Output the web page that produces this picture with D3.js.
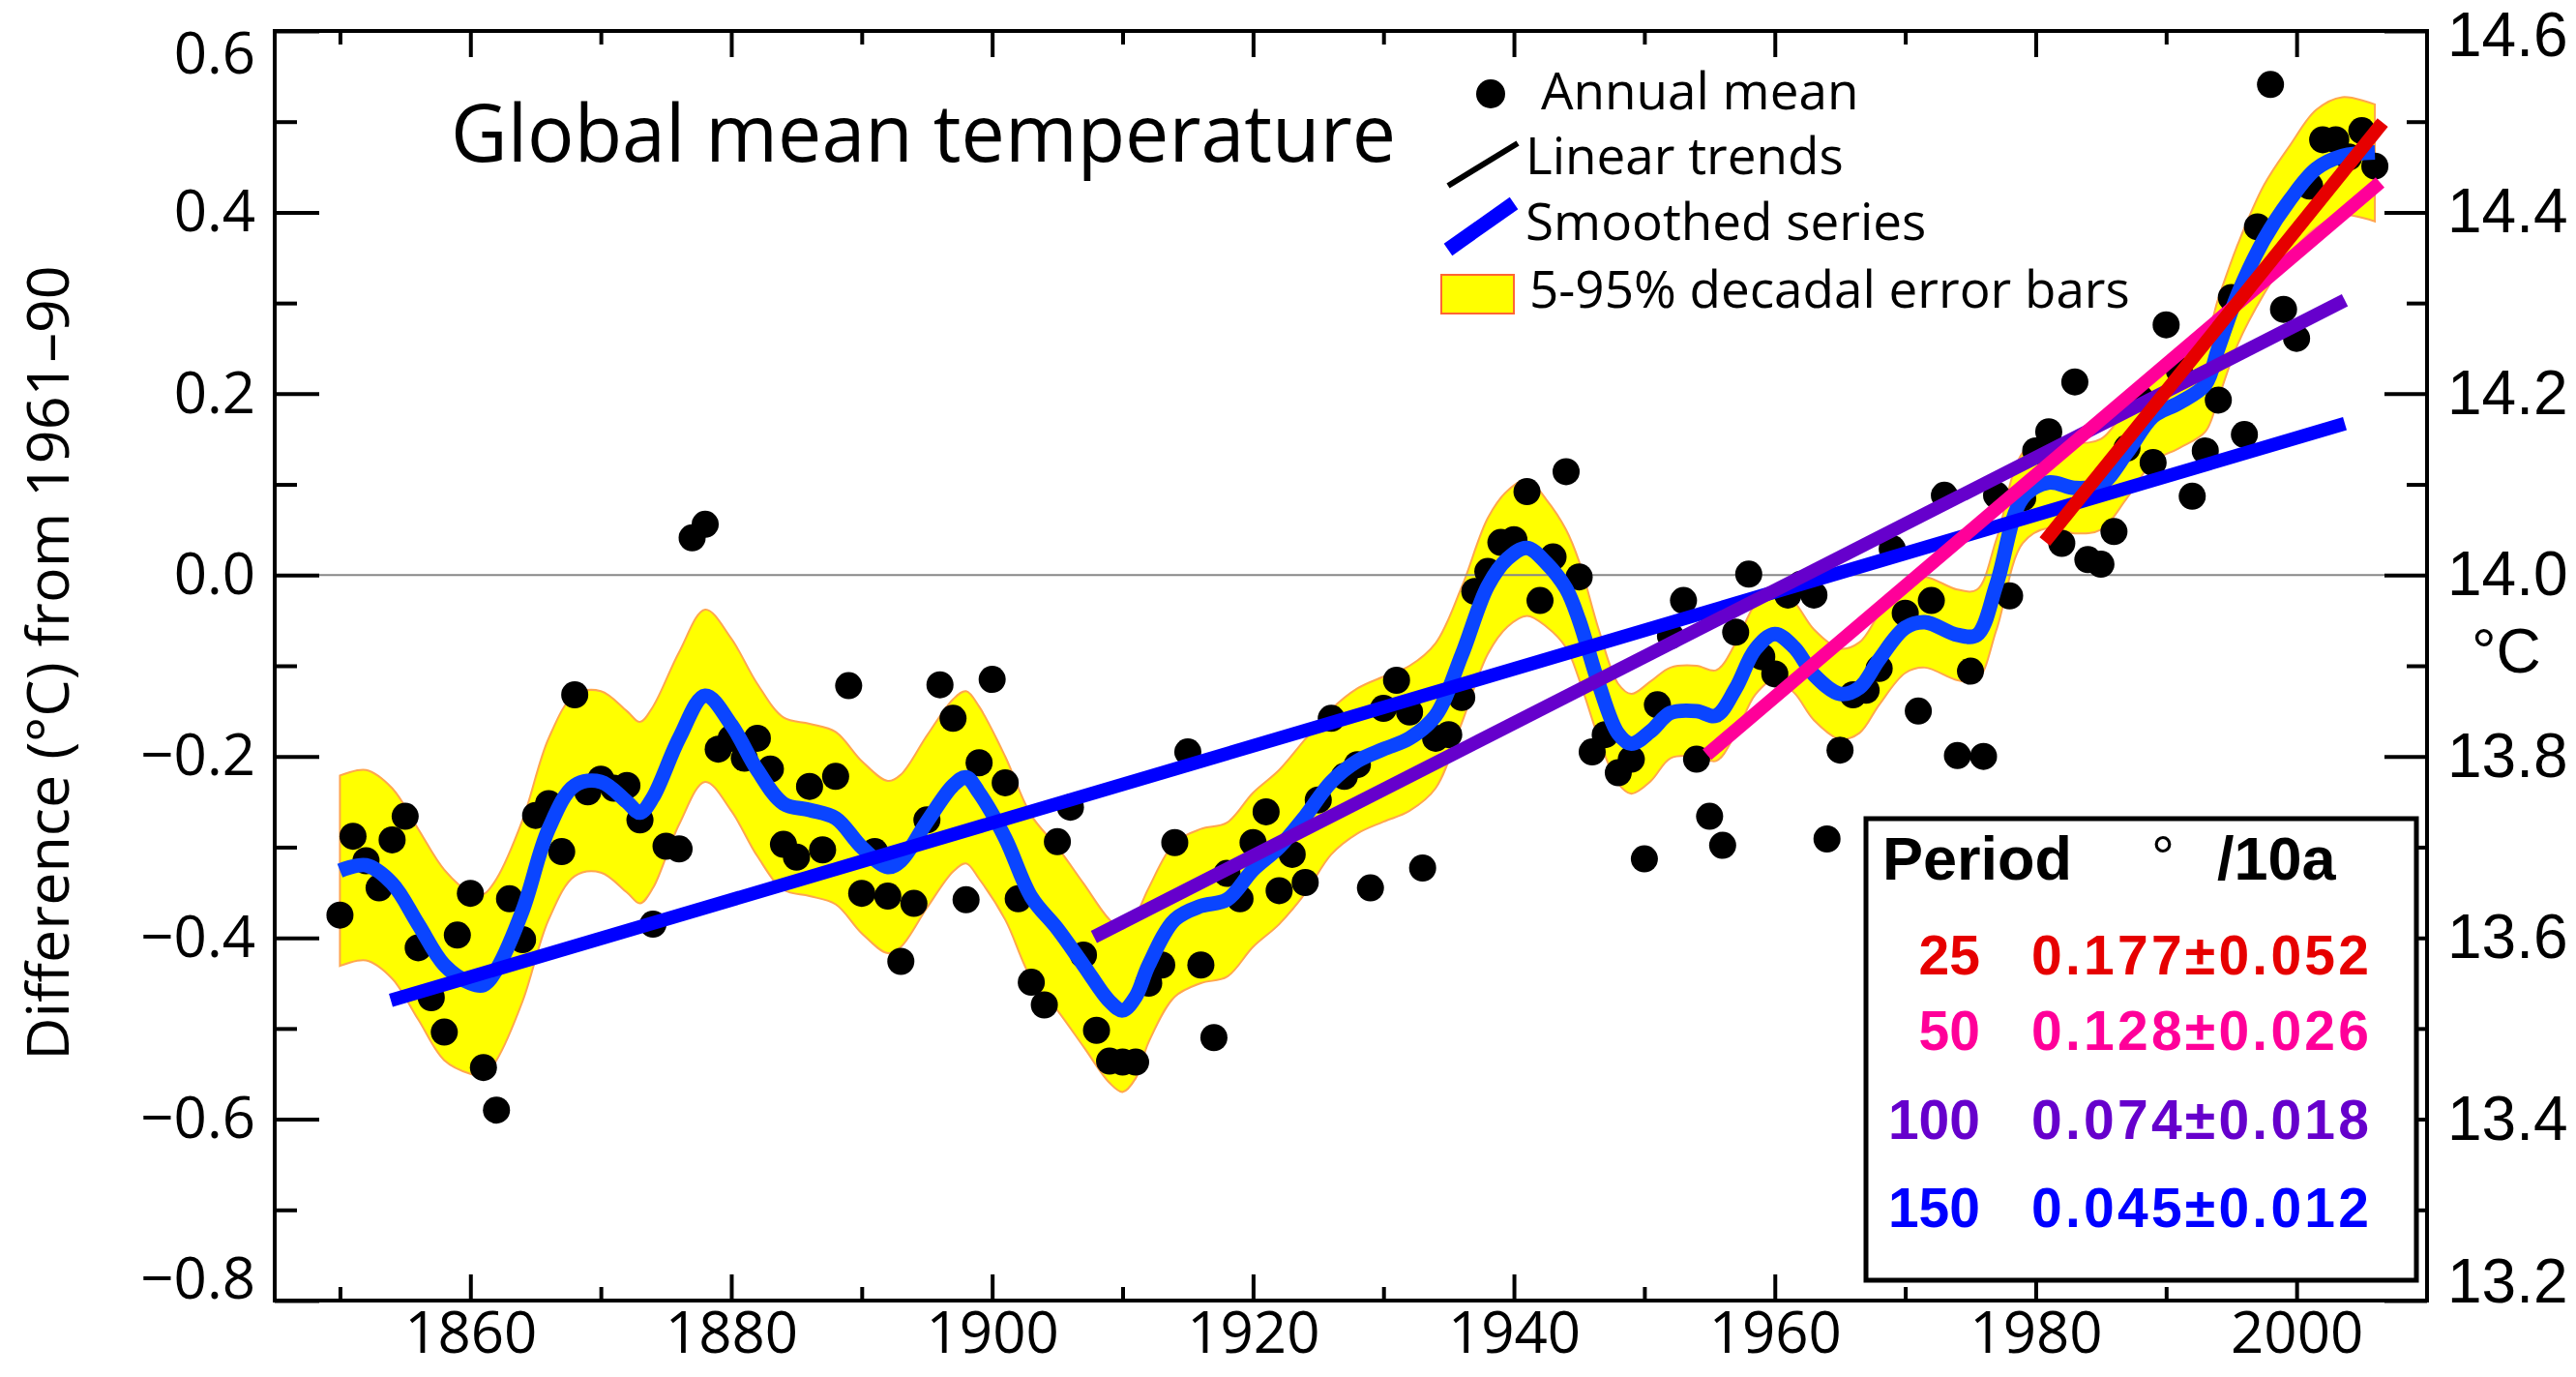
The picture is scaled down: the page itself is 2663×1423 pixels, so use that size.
<!DOCTYPE html>
<html><head><meta charset="utf-8">
<script src="https://cdn.jsdelivr.net/npm/d3@7"></script>
<style>html,body{margin:0;padding:0;background:#fff}svg{display:block}</style>
</head><body>
<svg id="chart" width="2663" height="1423"></svg>
<script>
// ---------------- DATA ----------------
const firstYear = 1850;
const annualMean = [
-0.375,-0.288,-0.315,-0.345,-0.292,-0.266,-0.411,-0.466,-0.504,-0.397,
-0.351,-0.543,-0.590,-0.357,-0.402,-0.265,-0.252,-0.305,-0.132,-0.239,
-0.225,-0.235,-0.232,-0.270,-0.385,-0.299,-0.302,0.041,0.056,-0.192,
-0.180,-0.202,-0.180,-0.214,-0.297,-0.311,-0.233,-0.303,-0.222,-0.122,
-0.351,-0.305,-0.354,-0.426,-0.362,-0.270,-0.121,-0.158,-0.358,-0.207,
-0.115,-0.229,-0.357,-0.449,-0.474,-0.294,-0.256,-0.419,-0.502,-0.536,
-0.537,-0.537,-0.450,-0.430,-0.295,-0.195,-0.430,-0.510,-0.329,-0.357,
-0.295,-0.261,-0.348,-0.308,-0.339,-0.248,-0.158,-0.222,-0.209,-0.345,
-0.147,-0.116,-0.151,-0.323,-0.180,-0.176,-0.135,-0.018,0.004,0.036,
0.039,0.092,-0.028,0.020,0.114,-0.002,-0.195,-0.176,-0.218,-0.203,
-0.313,-0.143,-0.067,-0.028,-0.203,-0.266,-0.298,-0.063,0.001,-0.090,
-0.109,-0.022,-0.010,-0.022,-0.291,-0.193,-0.132,-0.127,-0.103,0.029,
-0.042,-0.150,-0.028,0.088,-0.199,-0.106,-0.200,0.088,-0.023,0.085,
0.137,0.158,0.035,0.213,0.017,0.012,0.048,0.140,0.195,0.124,
0.276,0.226,0.087,0.137,0.193,0.306,0.155,0.384,0.541,0.293,
0.261,0.429,0.480,0.480,0.461,0.490,0.451];

const smoothYears = [1850,1852,1854,1856,1858,1860,1861,1862,1864,1866,1868,1870,1872,1873,1874,1876,1878,1880,1882,1884,1886,1888,1890,1892,1893,1895,1897,1898,1899,1901,1903,1905,1907,1909,1910,1911,1912,1914,1916,1918,1920,1922,1924,1926,1928,1930,1932,1934,1936,1938,1939.5,1941,1942.5,1944,1945,1946.5,1948,1949,1950.5,1952,1954,1955.5,1957,1958.5,1960,1961.5,1963,1965,1966.5,1968,1970,1971.5,1974,1975.5,1977,1979,1981,1983,1985,1987,1989,1991,1993,1994,1995.5,1997.5,1999.5,2001.5,2003.5,2006];
const smoothValues = [-0.326,-0.320,-0.340,-0.385,-0.430,-0.450,-0.452,-0.435,-0.370,-0.280,-0.232,-0.228,-0.250,-0.262,-0.245,-0.180,-0.133,-0.165,-0.215,-0.252,-0.259,-0.268,-0.300,-0.322,-0.315,-0.272,-0.232,-0.223,-0.240,-0.290,-0.355,-0.390,-0.430,-0.470,-0.480,-0.465,-0.430,-0.380,-0.365,-0.358,-0.325,-0.300,-0.266,-0.228,-0.205,-0.192,-0.180,-0.155,-0.088,-0.012,0.018,0.030,0.013,-0.015,-0.050,-0.120,-0.175,-0.186,-0.172,-0.152,-0.150,-0.155,-0.125,-0.082,-0.065,-0.080,-0.110,-0.131,-0.124,-0.093,-0.058,-0.052,-0.066,-0.066,-0.010,0.085,0.102,0.096,0.100,0.135,0.175,0.190,0.210,0.250,0.310,0.370,0.414,0.448,0.462,0.466];
const bandLower = [-0.431,-0.425,-0.445,-0.490,-0.535,-0.550,-0.552,-0.535,-0.470,-0.380,-0.332,-0.328,-0.350,-0.362,-0.345,-0.275,-0.228,-0.260,-0.310,-0.347,-0.354,-0.363,-0.395,-0.417,-0.410,-0.367,-0.327,-0.318,-0.335,-0.380,-0.445,-0.480,-0.520,-0.560,-0.570,-0.555,-0.515,-0.465,-0.450,-0.443,-0.410,-0.385,-0.351,-0.308,-0.285,-0.272,-0.260,-0.235,-0.163,-0.087,-0.057,-0.045,-0.057,-0.080,-0.115,-0.180,-0.230,-0.241,-0.227,-0.202,-0.200,-0.205,-0.175,-0.132,-0.115,-0.130,-0.160,-0.181,-0.174,-0.143,-0.108,-0.102,-0.116,-0.116,-0.060,0.035,0.052,0.046,0.050,0.085,0.125,0.140,0.158,0.195,0.255,0.310,0.354,0.383,0.397,0.390];
const bandUpper = [-0.221,-0.215,-0.235,-0.280,-0.325,-0.350,-0.352,-0.335,-0.270,-0.180,-0.132,-0.128,-0.150,-0.162,-0.145,-0.085,-0.038,-0.070,-0.120,-0.157,-0.164,-0.173,-0.205,-0.227,-0.220,-0.177,-0.137,-0.128,-0.145,-0.200,-0.265,-0.300,-0.340,-0.380,-0.390,-0.375,-0.345,-0.295,-0.280,-0.273,-0.240,-0.215,-0.181,-0.148,-0.125,-0.112,-0.100,-0.075,-0.013,0.063,0.093,0.105,0.083,0.050,0.015,-0.060,-0.120,-0.131,-0.117,-0.102,-0.100,-0.105,-0.075,-0.032,-0.015,-0.030,-0.060,-0.081,-0.074,-0.043,-0.008,-0.002,-0.016,-0.016,0.040,0.135,0.152,0.146,0.150,0.185,0.225,0.240,0.262,0.305,0.365,0.430,0.474,0.513,0.527,0.519];

const trendPeriods = ["25","50","100","150"];
const trendRates = ["0.177\u00b10.052","0.128\u00b10.026","0.074\u00b10.018","0.045\u00b10.012"];
const trendStartYear = [1980.7,1954.8,1907.8,1853.9];
const trendStartValue = [0.037,-0.198,-0.399,-0.469];
const trendEndYear = [2006.6,2006.4,2003.7,2003.7];
const trendEndValue = [0.499,0.433,0.303,0.167];

const xMajorTicks = [1860,1880,1900,1920,1940,1960,1980,2000];
const xMinorTicks = [1850,1870,1890,1910,1930,1950,1970,1990];
const yMajorTicks = [-0.8,-0.6,-0.4,-0.2,0.0,0.2,0.4,0.6];
const yMinorTicks = [-0.7,-0.5,-0.3,-0.1,0.1,0.3,0.5];
const yRightMajor = [13.2,13.4,13.6,13.8,14.0,14.2,14.4,14.6];
const yRightMinor = [13.3,13.5,13.7,13.9,14.1,14.3,14.5];
const legendLabels = ["Annual mean","Linear trends","Smoothed series","5-95% decadal error bars"];

// ---------------- STYLE / LAYOUT ----------------
const trendColors = ["#e60000","#ff0099","#6600cc","#0000ff"];
const smoothColor = "#0a45ff";
const L = 284, R = 2509, T = 32, B = 1344;
const sans = "'Open Sans', 'Noto Sans', sans-serif";
const arial = "'Liberation Sans', Arial, sans-serif";

const svg = d3.select("#chart");
const x = d3.scaleLinear().domain([1845, 2010]).range([L, R]);
const y = d3.scaleLinear().domain([-0.8, 0.6]).range([B, T]);
const y2 = d3.scaleLinear().domain([13.2, 14.6]).range([B, T]);

const annual = annualMean.map((v, i) => ({year: firstYear + i, v}));
const smooth = smoothYears.map((yr, i) => ({year: yr, v: smoothValues[i], lo: bandLower[i], hi: bandUpper[i]}));

// band
svg.append("path").datum(smooth)
  .attr("d", d3.area().x(d => x(d.year)).y0(d => y(d.lo)).y1(d => y(d.hi)).curve(d3.curveCatmullRom))
  .attr("fill", "#ffff00").attr("stroke", "#ffa64d").attr("stroke-width", 2);

// zero line
svg.append("line").attr("x1", L).attr("x2", R).attr("y1", y(0)).attr("y2", y(0))
  .attr("stroke", "#888").attr("stroke-width", 2);

// dots
svg.append("g").selectAll("circle").data(annual).join("circle")
  .attr("cx", d => x(d.year)).attr("cy", d => y(d.v)).attr("r", 14).attr("fill", "#000");

// smoothed
svg.append("path").datum(smooth)
  .attr("d", d3.line().x(d => x(d.year)).y(d => y(d.v)).curve(d3.curveCatmullRom))
  .attr("fill", "none").attr("stroke", smoothColor).attr("stroke-width", 15)
  .attr("stroke-linejoin", "round");

// trends (150 first, 25 last on top)
const trendIdx = [3, 2, 1, 0];
svg.append("g").selectAll("line").data(trendIdx).join("line")
  .attr("x1", i => x(trendStartYear[i])).attr("y1", i => y(trendStartValue[i]))
  .attr("x2", i => x(trendEndYear[i])).attr("y2", i => y(trendEndValue[i]))
  .attr("stroke", i => trendColors[i]).attr("stroke-width", 14);

// axes
function styleAxis(g, fontFamily, fontSize) {
  g.select(".domain").remove();
  g.selectAll(".tick line").attr("stroke", "#000").attr("stroke-width", 4);
  g.selectAll(".tick text").attr("font-family", fontFamily).attr("font-size", fontSize).attr("fill", "#000");
}
const fmtY = v => (v < 0 ? "\u2212" : "") + Math.abs(v).toFixed(1);

svg.append("g").attr("transform", `translate(0,${B})`)
  .call(d3.axisBottom(x).tickValues(xMajorTicks).tickSize(-27).tickPadding(11).tickFormat(d3.format("d")))
  .call(g => styleAxis(g, sans, 60));
svg.append("g").attr("transform", `translate(0,${B})`)
  .call(d3.axisBottom(x).tickValues(xMinorTicks).tickSize(-14).tickFormat(""))
  .call(g => styleAxis(g, sans, 60));
svg.append("g").attr("transform", `translate(0,${T})`)
  .call(d3.axisTop(x).tickValues(xMajorTicks).tickSize(-27).tickFormat(""))
  .call(g => styleAxis(g, sans, 60));
svg.append("g").attr("transform", `translate(0,${T})`)
  .call(d3.axisTop(x).tickValues(xMinorTicks).tickSize(-14).tickFormat(""))
  .call(g => styleAxis(g, sans, 60));

const gl = svg.append("g").attr("transform", `translate(${L},0)`)
  .call(d3.axisLeft(y).tickValues(yMajorTicks).tickSize(-46).tickPadding(20).tickFormat(fmtY))
  .call(g => styleAxis(g, sans, 60));
gl.selectAll(".tick text").filter(d => d === 0.6).attr("dy", "0.72em");
gl.selectAll(".tick text").filter(d => d === -0.8).attr("dy", "-0.05em");
svg.append("g").attr("transform", `translate(${L},0)`)
  .call(d3.axisLeft(y).tickValues(yMinorTicks).tickSize(-23).tickFormat(""))
  .call(g => styleAxis(g, sans, 60));

const gr = svg.append("g").attr("transform", `translate(${R},0)`)
  .call(d3.axisRight(y2).tickValues(yRightMajor).tickSize(-44).tickPadding(21).tickFormat(d3.format(".1f")))
  .call(g => styleAxis(g, arial, 64));
gr.selectAll(".tick text").filter(d => Math.abs(d - 14.6) < 1e-6).attr("dy", "0.4em");
gr.selectAll(".tick text").filter(d => Math.abs(d - 13.2) < 1e-6).attr("dy", "0.02em");
svg.append("g").attr("transform", `translate(${R},0)`)
  .call(d3.axisRight(y2).tickValues(yRightMinor).tickSize(-21).tickFormat(""))
  .call(g => styleAxis(g, arial, 64));

// frame
svg.append("rect").attr("x", L).attr("y", T).attr("width", R - L).attr("height", B - T)
  .attr("fill", "none").attr("stroke", "#000").attr("stroke-width", 4);

// right unit label
svg.append("text").attr("x", 2555).attr("y", 695).attr("font-family", arial).attr("font-size", 64)
  .text("\u00b0C");

// y title
svg.append("text").attr("transform", "translate(71,685) rotate(-90)")
  .attr("text-anchor", "middle").attr("font-family", sans).attr("font-size", 61)
  .text("Difference (\u00b0C) from 1961\u201390");

// title
svg.append("text").attr("x", 466).attr("y", 167).attr("font-family", sans).attr("font-size", 82)
  .attr("textLength", 977).attr("lengthAdjust", "spacingAndGlyphs").text("Global mean temperature");

// legend
const lg = svg.append("g");
lg.append("circle").attr("cx", 1541).attr("cy", 97).attr("r", 15).attr("fill", "#000");
lg.append("line").attr("x1", 1497).attr("y1", 192).attr("x2", 1569).attr("y2", 148)
  .attr("stroke", "#000").attr("stroke-width", 6);
lg.append("line").attr("x1", 1497).attr("y1", 258).attr("x2", 1565).attr("y2", 210)
  .attr("stroke", "#0000ff").attr("stroke-width", 15);
lg.append("rect").attr("x", 1490).attr("y", 284).attr("width", 75).attr("height", 40)
  .attr("fill", "#ffff00").attr("stroke", "#ff6633").attr("stroke-width", 2);
const legX = [1593, 1577, 1577, 1581], legY = [113, 180, 248, 318];
lg.selectAll("text").data(legendLabels).join("text")
  .attr("x", (d, i) => legX[i]).attr("y", (d, i) => legY[i])
  .attr("font-family", sans).attr("font-size", 53).text(d => d);

// table box
const tb = svg.append("g");
tb.append("rect").attr("x", 1929).attr("y", 846).attr("width", 569).attr("height", 477)
  .attr("fill", "#fff").attr("stroke", "#000").attr("stroke-width", 5);
tb.append("text").attr("x", 1946).attr("y", 909).attr("font-family", arial).attr("font-weight", "bold")
  .attr("font-size", 63).text("Period");
tb.append("text").attr("x", 2224).attr("y", 906).attr("font-family", arial)
  .attr("font-size", 60).text("\u00b0");
tb.append("text").attr("x", 2292).attr("y", 909).attr("font-family", arial).attr("font-weight", "bold")
  .attr("font-size", 63).text("/10a");
const rowY = [1007, 1085, 1177, 1268];
trendPeriods.forEach((p, i) => {
  tb.append("text").attr("x", 2047).attr("y", rowY[i]).attr("text-anchor", "end")
    .attr("font-family", arial).attr("font-weight", "bold").attr("font-size", 57)
    .attr("fill", trendColors[i]).text(p);
  tb.append("text").attr("x", 2100).attr("y", rowY[i])
    .attr("font-family", arial).attr("font-weight", "bold").attr("font-size", 57)
    .attr("textLength", 349).attr("lengthAdjust", "spacing")
    .attr("fill", trendColors[i]).text(trendRates[i]);
});
</script>
</body></html>
